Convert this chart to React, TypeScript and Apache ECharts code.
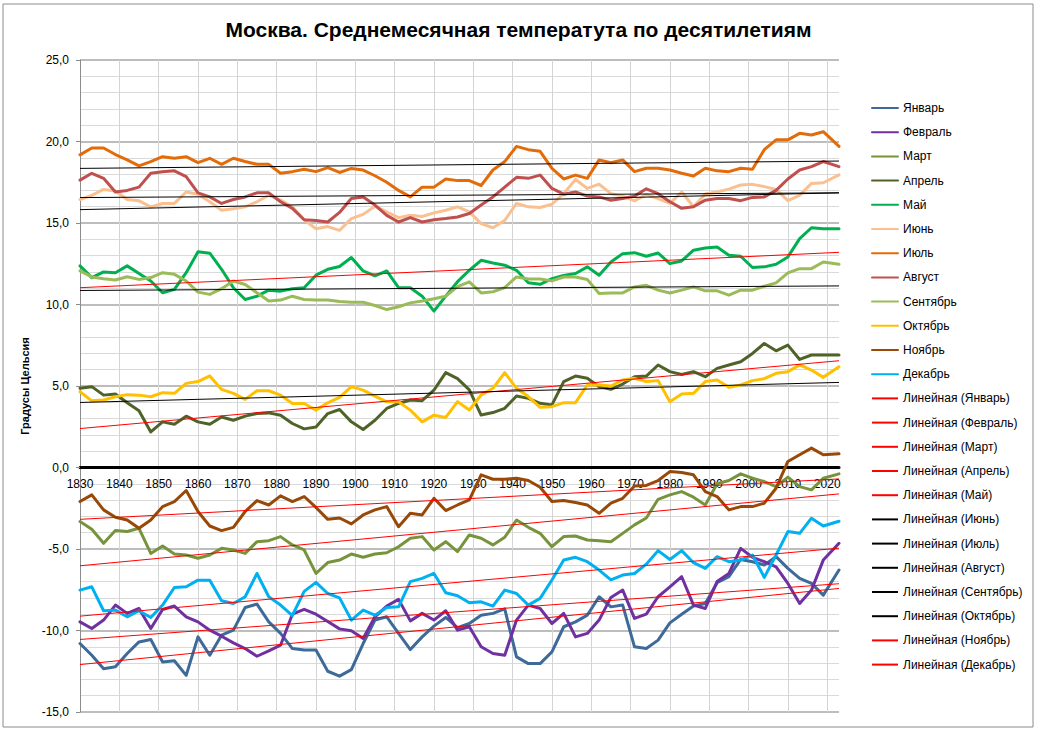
import React, { useEffect, useRef } from "react";
import * as echarts from "echarts";

const years = [
  1830, 1833, 1836, 1839, 1842, 1845, 1848, 1851, 1854, 1857, 1860, 1863, 1866,
  1869, 1872, 1875, 1878, 1881, 1884, 1887, 1890, 1893, 1896, 1899, 1902, 1905,
  1908, 1911, 1914, 1917, 1920, 1923, 1926, 1929, 1932, 1935, 1938, 1941, 1944,
  1947, 1950, 1953, 1956, 1959, 1962, 1965, 1968, 1971, 1974, 1977, 1980, 1983,
  1986, 1989, 1992, 1995, 1998, 2001, 2004, 2007, 2010, 2013, 2016, 2019, 2023,
];

const monthNames = [
  "Январь", "Февраль", "Март", "Апрель", "Май", "Июнь",
  "Июль", "Август", "Сентябрь", "Октябрь", "Ноябрь", "Декабрь",
];

const monthColors = [
  "#3D6A99", "#7030A0", "#77933C", "#4F6228", "#00B050", "#FAC090",
  "#E36C09", "#C0504D", "#9BBB59", "#FFC000", "#984807", "#00B0F0",
];

const jan = [
  -10.8, -11.52, -12.34, -12.23, -11.41, -10.7, -10.55, -11.93, -11.86, -12.75, -10.39, -11.52, -10.29,
  -9.98, -8.59, -8.38, -9.47, -10.18, -11.11, -11.2, -11.2, -12.5, -12.8, -12.4, -10.8, -9.36,
  -9.16, -10.18, -11.17, -10.39, -9.73, -9.2, -9.82, -9.57, -9.06, -8.95, -8.67, -11.62, -12.03,
  -12.03, -11.31, -9.77, -9.47, -9.06, -7.93, -8.55, -8.44, -11.0, -11.11, -10.59, -9.53, -9.0,
  -8.5, -8.34, -7.07, -6.7, -5.64, -5.78, -5.98, -5.47, -6.19, -6.8, -7.11, -7.83, -6.29,
];
const feb = [
  -9.47, -9.88, -9.36, -8.44, -8.95, -8.65, -9.88, -8.71, -8.5, -9.16, -9.47, -9.98, -10.35,
  -10.76, -11.11, -11.58, -11.25, -10.9, -9.0, -8.7, -9.0, -9.45, -9.9, -10.02, -10.49, -9.16,
  -8.5, -8.09, -9.41, -8.95, -9.36, -8.79, -9.98, -9.77, -11.0, -11.41, -11.52, -9.36, -8.44,
  -8.65, -9.57, -8.95, -10.39, -10.18, -9.36, -7.97, -7.52, -9.26, -9.0, -7.93, -7.32, -6.7,
  -8.44, -8.65, -7.0, -6.5, -4.96, -5.51, -5.78, -6.09, -7.11, -8.34, -7.52, -5.68, -4.65,
];
const mar = [
  -3.32, -3.79, -4.65, -3.87, -3.93, -3.73, -5.27, -4.82, -5.31, -5.37, -5.57, -5.37, -4.96,
  -5.06, -5.27, -4.55, -4.49, -4.24, -4.75, -5.06, -6.5, -5.83, -5.68, -5.31, -5.51, -5.31,
  -5.23, -4.86, -4.34, -4.24, -5.06, -4.55, -5.16, -4.14, -4.34, -4.75, -4.28, -3.22, -3.67,
  -4.04, -4.86, -4.24, -4.2, -4.45, -4.49, -4.55, -4.04, -3.52, -3.1, -1.95, -1.68, -1.48,
  -1.82, -2.3, -1.0, -0.8, -0.39, -0.66, -0.86, -1.17, -0.59, -1.17, -1.37, -0.66, -0.39,
];
const apr = [
  4.86, 4.96, 4.44, 4.51, 3.97, 3.48, 2.18, 2.8, 2.65, 3.15, 2.8, 2.65, 3.1,
  2.9, 3.15, 3.31, 3.35, 3.21, 2.7, 2.37, 2.49, 3.31, 3.56, 2.8, 2.33, 2.9,
  3.62, 3.93, 4.14, 4.1, 4.75, 5.82, 5.45, 4.76, 3.22, 3.37, 3.63, 4.39, 4.24,
  3.94, 3.84, 5.27, 5.61, 5.47, 4.96, 4.8, 5.12, 5.57, 5.61, 6.29, 5.88, 5.71,
  5.88, 5.57, 6.08, 6.29, 6.49, 7.0, 7.61, 7.16, 7.51, 6.63, 6.9, 6.9, 6.9,
];
const may = [
  12.37, 11.65, 12.0, 11.95, 12.37, 11.9, 11.44, 10.72, 10.93, 11.95, 13.23, 13.15, 12.16,
  11.03, 10.31, 10.51, 10.88, 10.82, 10.97, 11.03, 11.8, 12.16, 12.33, 12.88, 12.06, 11.75,
  12.06, 11.03, 11.03, 10.51, 9.59, 10.51, 11.4, 12.1, 12.71, 12.55, 12.41, 12.1, 11.33,
  11.24, 11.59, 11.78, 11.9, 12.31, 11.8, 12.61, 13.12, 13.18, 12.96, 13.16, 12.51, 12.67,
  13.33, 13.47, 13.53, 13.02, 12.96, 12.27, 12.31, 12.47, 12.92, 14.04, 14.71, 14.65, 14.65,
];
const jun = [
  16.44, 16.7, 17.06, 16.97, 16.44, 16.36, 15.99, 16.2, 16.2, 16.9, 16.76, 16.3, 15.78,
  15.88, 15.99, 16.3, 16.7, 16.4, 15.99, 15.2, 14.65, 14.78, 14.55, 15.27, 15.53, 16.03,
  15.68, 15.33, 15.47, 15.4, 15.62, 15.78, 15.99, 15.68, 14.96, 14.71, 15.16, 16.2, 15.99,
  15.95, 16.15, 16.8, 17.67, 17.12, 17.38, 16.8, 16.65, 16.36, 16.75, 16.5, 16.2, 16.9,
  16.0, 16.78, 16.9, 17.08, 17.33, 17.37, 17.23, 17.06, 16.37, 16.7, 17.43, 17.47, 17.95,
];
const jul = [
  19.18, 19.6, 19.6, 19.2, 18.87, 18.5, 18.77, 19.07, 18.97, 19.07, 18.7, 18.97, 18.6,
  18.97, 18.77, 18.6, 18.6, 18.05, 18.15, 18.3, 18.15, 18.4, 18.1, 18.35, 18.25, 17.9,
  17.5, 17.0, 16.6, 17.2, 17.2, 17.7, 17.6, 17.6, 17.3, 18.25, 18.77, 19.7, 19.5,
  19.4, 18.35, 17.7, 17.94, 17.74, 18.87, 18.7, 18.87, 18.15, 18.36, 18.36, 18.25, 18.05,
  17.88, 18.36, 18.2, 18.15, 18.36, 18.3, 19.5, 20.1, 20.1, 20.5, 20.4, 20.6, 19.7,
];
const aug = [
  17.63, 18.05, 17.74, 16.9, 17.0, 17.2, 18.05, 18.15, 18.2, 17.84, 16.85, 16.6, 16.2,
  16.44, 16.6, 16.85, 16.85, 16.3, 15.9, 15.2, 15.16, 15.06, 15.65, 16.5, 16.6, 16.1,
  15.47, 15.06, 15.33, 15.06, 15.2, 15.27, 15.37, 15.58, 16.1, 16.6, 17.2, 17.8, 17.74,
  17.94, 17.12, 16.77, 16.9, 16.65, 16.6, 16.4, 16.5, 16.65, 17.1, 16.8, 16.3, 15.9,
  16.0, 16.4, 16.5, 16.5, 16.37, 16.57, 16.6, 17.0, 17.7, 18.25, 18.46, 18.77, 18.46,
];
const sep = [
  12.06, 11.69, 11.58, 11.5, 11.7, 11.54, 11.65, 11.95, 11.85, 11.44, 10.76, 10.62, 10.97,
  11.44, 11.23, 10.72, 10.21, 10.27, 10.51, 10.31, 10.27, 10.27, 10.19, 10.14, 10.14, 9.94,
  9.69, 9.86, 10.1, 10.21, 10.35, 10.51, 11.1, 11.39, 10.71, 10.78, 11.04, 11.69, 11.57,
  11.57, 11.45, 11.69, 11.69, 11.53, 10.67, 10.71, 10.71, 11.08, 11.18, 10.88, 10.71, 10.88,
  11.08, 10.84, 10.84, 10.57, 10.88, 10.88, 11.12, 11.33, 11.94, 12.2, 12.2, 12.61, 12.47,
];
const oct = [
  4.65, 4.09, 4.14, 4.34, 4.47, 4.44, 4.34, 4.59, 4.55, 5.16, 5.27, 5.62, 4.79,
  4.55, 4.18, 4.71, 4.71, 4.44, 3.93, 3.93, 3.52, 3.97, 4.3, 4.96, 4.75, 4.38,
  4.03, 4.03, 3.52, 2.8, 3.21, 3.07, 4.04, 3.53, 4.45, 4.86, 5.82, 4.86, 4.35,
  3.69, 3.73, 3.98, 3.98, 5.06, 5.06, 5.0, 5.37, 5.47, 5.27, 5.33, 4.04, 4.51,
  4.55, 5.27, 5.37, 4.92, 5.06, 5.33, 5.45, 5.78, 5.88, 6.29, 5.98, 5.53, 6.18,
];
const nov = [
  -2.09, -1.68, -2.6, -3.05, -3.22, -3.73, -3.22, -2.4, -2.09, -1.41, -2.7, -3.59, -3.87,
  -3.67, -2.7, -2.03, -2.3, -1.74, -2.09, -1.78, -2.45, -3.18, -3.1, -3.46, -2.91, -2.6,
  -2.4, -3.63, -2.81, -2.91, -1.89, -2.64, -2.3, -1.99, -0.45, -0.72, -0.72, -0.66, -0.8,
  -1.21, -2.09, -2.03, -2.15, -2.3, -2.81, -2.19, -1.89, -1.13, -1.1, -0.8, -0.25, -0.31,
  -0.45, -1.48, -1.78, -2.6, -2.4, -2.4, -2.19, -1.27, 0.37, 0.78, 1.19, 0.78, 0.84,
];
const dec = [
  -7.52, -7.32, -8.79, -8.75, -9.16, -8.79, -9.2, -8.44, -7.36, -7.32, -6.91, -6.91, -8.18,
  -8.34, -7.93, -6.5, -7.93, -8.44, -9.08, -7.6, -7.05, -7.73, -8.0, -9.36, -8.75, -9.06,
  -8.59, -8.55, -7.0, -6.8, -6.5, -7.68, -7.87, -8.3, -8.24, -8.5, -7.52, -7.73, -8.44,
  -8.03, -6.9, -5.68, -5.51, -5.78, -6.29, -6.9, -6.6, -6.5, -5.93, -5.1, -5.64, -5.1,
  -5.84, -6.19, -5.47, -5.78, -5.68, -5.37, -6.74, -5.37, -3.93, -4.04, -3.11, -3.59, -3.3,
];

const monthValues = [jan, feb, mar, apr, may, jun, jul, aug, sep, oct, nov, dec];

// Linear trend lines: value at first year and at last year
const trendYears = [1830, 2023];
const trendStart = [-12.09, -10.55, -6.03, 2.39, 11.03, 15.82, 18.35, 16.56, 10.86, 3.99, -3.18, -9.12];
const trendEnd = [-7.42, -7.13, -1.62, 6.55, 13.2, 16.85, 18.8, 16.85, 11.14, 5.22, -0.7, -4.95];
const trendColors = [
  "#FF0000", "#FF0000", "#FF0000", "#FF0000", "#FF0000", "#000000",
  "#000000", "#000000", "#000000", "#000000", "#FF0000", "#FF0000",
];

const yTicks = { min: -15, max: 25, step: 5 };
const xTicks = { min: 1830, max: 2023, step: 10 };

const FONT = "'Liberation Sans', Arial, sans-serif";

export default function App() {
  const ref = useRef<HTMLDivElement>(null);

  useEffect(() => {
    if (!ref.current) return;
    const chart = echarts.init(ref.current, undefined, { renderer: "svg" });

    const gridTop = 60;
    const gridBottom = 20;
    const height = 732;
    const plotH = height - gridTop - gridBottom;
    // offset so that the x axis sits on the zero line of the y axis
    const zeroFromBottom = ((0 - yTicks.min) / (yTicks.max - yTicks.min)) * plotH;

    const dataSeries = monthNames.map((name, m) => ({
      name,
      type: "line",
      data: years.map((y, i) => [y, monthValues[m][i]]),
      showSymbol: false,
      symbol: "none",
      lineStyle: { color: monthColors[m], width: 3, cap: "round", join: "round" },
      itemStyle: { color: monthColors[m] },
      silent: true,
      z: 2,
    }));

    const trendSeries = monthNames.map((name, m) => ({
      name: `Линейная (${name})`,
      type: "line",
      data: [
        [trendYears[0], trendStart[m]],
        [trendYears[1], trendEnd[m]],
      ],
      showSymbol: false,
      symbol: "none",
      lineStyle: { color: trendColors[m], width: 1 },
      itemStyle: { color: trendColors[m] },
      silent: true,
      z: 3,
    }));

    const legendNames = [
      ...monthNames,
      ...monthNames.map((n) => `Линейная (${n})`),
    ];

    chart.setOption({
      animation: false,
      backgroundColor: "#FFFFFF",
      title: {
        text: "Москва. Среднемесячная температута по десятилетиям",
        left: "center",
        top: 14,
        textStyle: {
          fontFamily: FONT,
          fontSize: 21,
          fontWeight: "bold",
          color: "#000000",
        },
      },
      legend: {
        orient: "vertical",
        left: 866,
        top: 97,
        itemWidth: 26,
        itemHeight: 14,
        itemGap: 12.2,
        data: legendNames,
        itemStyle: { opacity: 0 },
        textStyle: { fontFamily: FONT, fontSize: 12, color: "#000000" },
        selectedMode: false,
      },
      grid: { left: 80, right: 198, top: gridTop, bottom: gridBottom, containLabel: false },
      xAxis: {
        type: "value",
        min: xTicks.min,
        max: xTicks.max,
        interval: xTicks.step,
        offset: -zeroFromBottom,
        axisLine: { onZero: false, lineStyle: { color: "#000000", width: 3 } },
        axisTick: { show: false },
        axisLabel: {
          margin: 10,
          fontFamily: FONT,
          fontSize: 12,
          color: "#000000",
          formatter: (v: number) => (v % 10 === 0 ? String(v) : ""),
          showMaxLabel: false,
        },
        splitLine: {
          show: true,
          showMaxLine: false,
          lineStyle: { color: "#D4D4D4", width: 1 },
        },
      },
      yAxis: {
        type: "value",
        min: yTicks.min,
        max: yTicks.max,
        interval: yTicks.step,
        name: "Градусы Цельсия",
        nameLocation: "middle",
        nameGap: 50,
        nameRotate: 90,
        nameTextStyle: {
          fontFamily: FONT,
          fontSize: 11,
          fontWeight: "bold",
          color: "#000000",
        },
        axisLine: { show: true, onZero: false, lineStyle: { color: "#8C8C8C", width: 1 } },
        axisTick: { show: true, inside: false, length: 4, lineStyle: { color: "#8C8C8C" } },
        axisLabel: {
          margin: 11,
          fontFamily: FONT,
          fontSize: 12,
          color: "#000000",
          formatter: (v: number) => v.toFixed(1).replace(".", ","),
        },
        splitLine: { show: true, lineStyle: { color: "#BDBDBD", width: 2 } },
        minorTick: { show: false, splitNumber: 5 },
        minorSplitLine: { show: true, lineStyle: { color: "#DADADA", width: 1 } },
      },
      graphic: [
        {
          type: "rect",
          silent: true,
          z: 100,
          shape: { x: 3, y: 4, width: 1030, height: 723 },
          style: { fill: "none", stroke: "#8C8C8C", lineWidth: 1 },
        },
      ],
      series: [...dataSeries, ...trendSeries],
    });

    return () => chart.dispose();
  }, []);

  return (
    <div
      ref={ref}
      style={{ position: "fixed", left: 0, top: 0, width: 1037, height: 732 }}
    />
  );
}
